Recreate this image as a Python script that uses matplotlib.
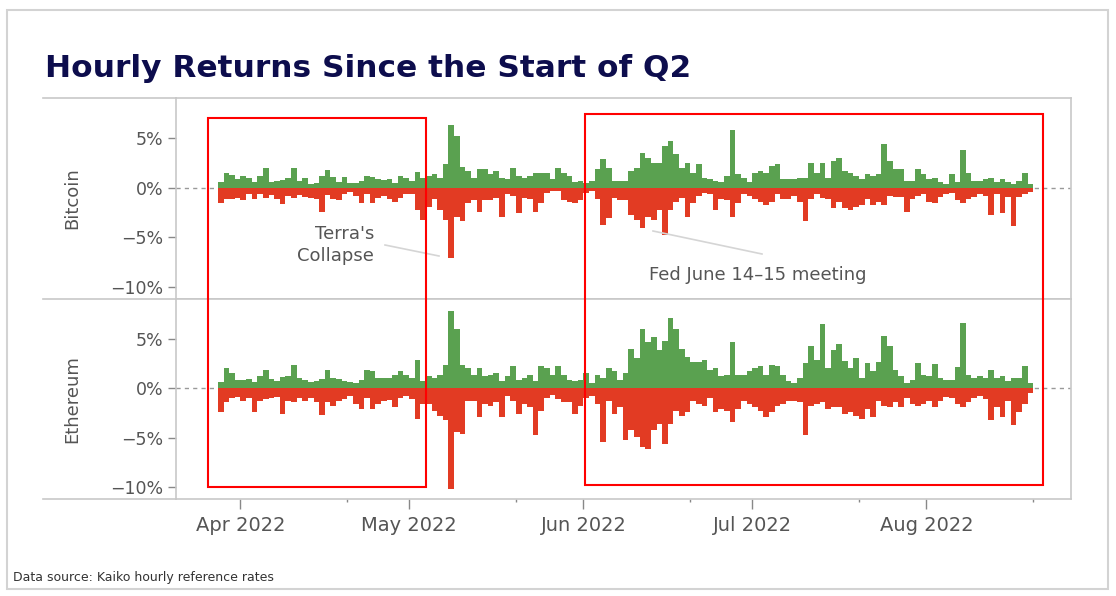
import numpy as np
import pandas as pd
import matplotlib.pyplot as plt
import matplotlib.dates as mdates
from matplotlib.patches import Rectangle
from matplotlib.lines import Line2D
from matplotlib.ticker import FuncFormatter, FixedLocator

# Datos: maximo y minimo retorno horario de cada dia (%)
start_date = "2022-03-28"

btc_up = [0.6, 1.45, 1.3, 0.9, 1.2, 1.0, 0.6, 1.2, 1.95, 0.6,
          0.7, 0.8, 1.0, 1.95, 0.7, 1.0, 0.4, 0.5, 1.2, 1.75,
          1.1, 0.6, 1.1, 0.5, 0.5, 0.7, 1.2, 1.1, 0.9, 0.8,
          0.9, 0.5, 1.2, 1.0, 0.7, 1.6, 1.0, 1.2, 1.35, 1.0,
          2.35, 6.3, 5.15, 2.1, 1.7, 1.0, 1.85, 1.9, 1.35, 1.7,
          1.0, 0.85, 2.0, 1.2, 1.0, 1.2, 1.5, 1.5, 1.5, 0.85,
          2.0, 1.5, 1.2, 0.6, 0.7, 0.5, 0.7, 1.85, 2.85, 2.0,
          0.7, 0.7, 0.7, 1.7, 2.0, 3.5, 3.0, 2.5, 2.5, 4.15,
          4.65, 3.35, 2.0, 2.5, 1.5, 2.35, 1.0, 0.85, 0.7, 0.55,
          1.2, 5.8, 1.35, 1.0, 0.55, 1.5, 1.7, 1.5, 2.2, 2.35,
          0.85, 0.85, 0.85, 1.0, 1.0, 2.5, 1.5, 2.5, 1.0, 2.65,
          3.0, 1.7, 1.5, 1.2, 0.85, 1.35, 1.2, 1.35, 4.4, 2.65,
          1.85, 1.85, 0.7, 0.7, 1.85, 1.35, 0.85, 1.0, 0.55, 0.4,
          1.35, 0.55, 3.75, 1.5, 0.7, 0.7, 0.85, 1.0, 0.55, 0.85,
          0.55, 0.4, 0.7, 1.5, 0.4]

btc_down = [-1.55, -1.2, -1.1, -1.0, -1.3, -0.6, -1.2, -0.6, -1.0, -0.7,
            -1.1, -1.7, -0.8, -1.0, -0.7, -0.9, -1.0, -1.1, -2.45, -0.7,
            -1.2, -1.3, -0.6, -0.45, -0.8, -1.6, -0.6, -1.6, -1.0, -0.8,
            -1.1, -1.45, -1.0, -0.6, -0.6, -2.3, -3.25, -1.95, -1.1, -2.3,
            -3.25, -7.05, -3.0, -3.4, -1.6, -1.3, -2.45, -1.3, -1.3, -1.0,
            -2.95, -0.65, -0.8, -2.6, -1.0, -1.1, -2.45, -1.6, -0.5, -0.3,
            -0.3, -1.3, -1.45, -1.6, -1.3, -0.5, -0.3, -1.1, -3.75, -3.1,
            -1.0, -1.3, -1.3, -2.8, -3.25, -4.1, -2.95, -3.25, -2.3, -4.75,
            -2.3, -1.45, -1.0, -2.95, -1.6, -0.8, -0.5, -0.65, -2.3, -1.1,
            -1.3, -2.95, -1.6, -0.65, -0.8, -1.1, -1.45, -1.8, -1.45, -0.65,
            -1.1, -1.1, -0.8, -1.45, -3.4, -1.1, -0.65, -1.0, -1.1, -2.1,
            -1.45, -2.1, -2.3, -1.95, -1.8, -1.1, -1.8, -1.45, -1.8, -0.8,
            -0.95, -0.95, -2.45, -1.1, -0.8, -0.65, -1.45, -1.6, -0.95, -0.65,
            -0.5, -1.3, -1.6, -1.1, -0.95, -0.65, -0.8, -2.8, -0.65, -2.6,
            -0.95, -3.9, -0.95, -0.65, -0.4]

eth_up = [0.6, 2.0, 1.5, 0.8, 0.8, 0.9, 0.6, 1.2, 1.85, 0.9,
          0.7, 1.1, 1.2, 2.35, 1.0, 0.8, 0.6, 0.7, 0.9, 1.85,
          1.0, 0.9, 0.7, 0.6, 0.55, 0.85, 1.85, 1.7, 1.0, 1.0,
          1.0, 1.35, 1.7, 1.35, 1.0, 2.85, 0.7, 1.2, 1.0, 1.35,
          2.35, 7.8, 6.0, 2.35, 2.0, 1.35, 2.0, 1.2, 1.35, 1.5,
          0.7, 1.2, 2.2, 0.85, 1.0, 1.35, 0.7, 2.2, 2.0, 1.35,
          2.2, 1.35, 0.85, 0.7, 0.85, 1.5, 0.5, 1.35, 1.0, 2.0,
          1.7, 0.85, 1.5, 4.0, 3.0, 6.0, 4.65, 5.15, 3.8, 4.8,
          7.1, 6.0, 4.0, 3.15, 2.65, 2.65, 2.85, 1.85, 2.0, 1.2,
          1.35, 4.65, 1.35, 1.35, 1.7, 2.0, 2.2, 1.35, 2.35, 2.2,
          1.35, 0.7, 0.55, 1.0, 2.5, 4.3, 2.85, 6.45, 2.0, 3.8,
          4.5, 2.7, 2.0, 3.0, 1.0, 2.5, 1.7, 2.65, 5.3, 4.3,
          1.85, 1.2, 0.55, 0.85, 2.5, 1.35, 1.2, 2.4, 1.0, 0.85,
          0.85, 2.1, 6.6, 1.35, 1.0, 1.2, 1.0, 1.85, 1.0, 1.2,
          0.7, 1.0, 1.0, 2.2, 0.5]

eth_down = [-2.45, -1.4, -1.0, -0.9, -1.3, -1.0, -2.45, -1.3, -1.1, -1.0,
            -0.9, -2.6, -1.3, -1.4, -1.0, -1.3, -1.0, -1.4, -2.75, -1.4,
            -1.8, -1.3, -1.1, -0.8, -1.6, -2.1, -1.0, -2.1, -1.6, -1.3,
            -1.2, -1.95, -1.0, -0.8, -1.1, -3.1, -1.6, -1.6, -2.3, -2.8,
            -3.25, -10.2, -4.4, -4.6, -1.3, -1.3, -2.95, -1.6, -1.8, -1.45,
            -2.95, -0.8, -1.3, -2.6, -1.6, -1.95, -4.75, -2.3, -1.0, -0.65,
            -1.1, -1.45, -1.45, -2.6, -1.8, -1.0, -0.8, -1.6, -5.4, -1.3,
            -2.6, -1.95, -5.25, -4.25, -4.9, -5.9, -6.1, -4.25, -3.6, -5.6,
            -3.6, -2.3, -2.8, -2.45, -1.3, -1.6, -1.8, -1.0, -2.45, -2.1,
            -2.3, -3.45, -2.1, -1.3, -1.6, -1.95, -2.3, -2.95, -2.45, -1.8,
            -1.6, -1.3, -1.3, -1.45, -4.75, -1.8, -1.6, -1.45, -2.1, -1.95,
            -1.95, -2.6, -2.45, -2.8, -3.1, -2.1, -2.95, -1.3, -1.8, -1.95,
            -1.45, -1.95, -0.95, -1.6, -1.8, -1.6, -1.3, -1.95, -1.3, -0.85,
            -1.0, -1.6, -1.95, -1.45, -0.95, -0.8, -1.1, -3.25, -1.95, -2.95,
            -1.3, -3.75, -2.45, -1.6, -0.5]

assets = ["Bitcoin", "Ethereum"]
y_ticks = [-10, -5, 0, 5]

dates = pd.date_range(start_date, periods=len(btc_up), freq="D")
x = mdates.date2num(dates.to_pydatetime())

# Tamano de la figura en pixeles
W, H = 1116, 596
GREEN = "#5aa150"
RED = "#e23b23"
GRAY_TXT = "#555555"
GRAY_LINE = "#c8c8c8"


def fx(px):
    return px / W


def fy(py):
    return 1 - py / H


def pct(v, pos):
    return f"{v:.0f}%".replace("-", "\u2212")


def panel(ax, up, down, label, ycenter):
    ax.bar(x, up, width=1.0, align="edge", color=GREEN, linewidth=0, zorder=2)
    ax.bar(x, down, width=1.0, align="edge", color=RED, linewidth=0, zorder=2)
    ax.axhline(0, color="#999999", lw=1, ls=(0, (3, 3)), zorder=1)
    ax.set_ylim(-11.2, 9.0)
    ax.yaxis.set_major_locator(FixedLocator(y_ticks))
    ax.yaxis.set_major_formatter(FuncFormatter(pct))
    ax.tick_params(axis="y", length=6, width=1, color="#888888",
                   labelsize=12.5, labelcolor=GRAY_TXT, pad=3)
    for s in ax.spines.values():
        s.set_color(GRAY_LINE)
        s.set_linewidth(1.2)
    fig.text(fx(72), fy(ycenter), label, rotation=90, ha="center",
             va="center", fontsize=13, color=GRAY_TXT)


fig = plt.figure(figsize=(W / 100, H / 100), dpi=100)

ax1 = fig.add_axes([fx(176), fy(299), fx(1071) - fx(176), (299 - 98) / H])
ax2 = fig.add_axes([fx(176), fy(499), fx(1071) - fx(176), (499 - 299) / H],
                   sharex=ax1)

panel(ax1, btc_up, btc_down, assets[0], 198)
panel(ax2, eth_up, eth_down, assets[1], 399)

# Eje x
ax1.set_xlim(mdates.date2num(pd.Timestamp("2022-03-20 13:00")),
             mdates.date2num(pd.Timestamp("2022-08-26 17:00")))
ax1.tick_params(axis="x", which="both", bottom=False, labelbottom=False)
ax2.xaxis.set_major_locator(mdates.MonthLocator())
ax2.xaxis.set_major_formatter(mdates.DateFormatter("%b %Y"))
ax2.xaxis.set_minor_locator(mdates.DayLocator(bymonthday=20))
ax2.tick_params(axis="x", which="major", length=7, width=1, color="#888888",
                labelsize=14, labelcolor=GRAY_TXT, pad=5)
ax2.tick_params(axis="x", which="minor", length=2, width=1, color="#888888")

# Lineas de la cabecera izquierda
for yy in [98, 299, 499]:
    fig.add_artist(Line2D([fx(43), fx(176)], [fy(yy), fy(yy)],
                          color=GRAY_LINE, lw=1.2))

# Marco exterior
fig.add_artist(Rectangle((fx(7), fy(589)), fx(1108) - fx(7), (589 - 10) / H,
                         transform=fig.transFigure, fill=False,
                         ec="#d3d3d3", lw=1.5))

# Recuadros rojos
for (x0, y0, x1, y1) in [(208, 118, 426, 487), (585, 114, 1043, 485)]:
    fig.add_artist(Rectangle((fx(x0), fy(y1)), fx(x1) - fx(x0), (y1 - y0) / H,
                             transform=fig.transFigure, fill=False,
                             ec="#ff0000", lw=1.5, zorder=10))

# Anotaciones
fig.add_artist(Line2D([fx(385), fx(439)], [fy(245), fy(256)],
                      color="#d5d5d5", lw=1.2))
fig.add_artist(Line2D([fx(653), fx(762)], [fy(231), fy(254)],
                      color="#d5d5d5", lw=1.2))
fig.text(fx(374), fy(245), "Terra's\nCollapse", ha="right", va="center",
         multialignment="right", fontsize=13, color=GRAY_TXT, linespacing=1.3)
fig.text(fx(649), fy(275), "Fed June 14\u201315 meeting", ha="left",
         va="center", fontsize=13, color=GRAY_TXT)

# Titulo y fuente
fig.text(fx(45), fy(77), "Hourly Returns Since the Start of Q2", ha="left",
         va="baseline", fontsize=22.5, fontweight="bold", color="#0d0d4d")
fig.text(fx(13), fy(577), "Data source: Kaiko hourly reference rates",
         ha="left", va="center", fontsize=9, color="#333333")

fig.savefig("out.png", dpi=100)
